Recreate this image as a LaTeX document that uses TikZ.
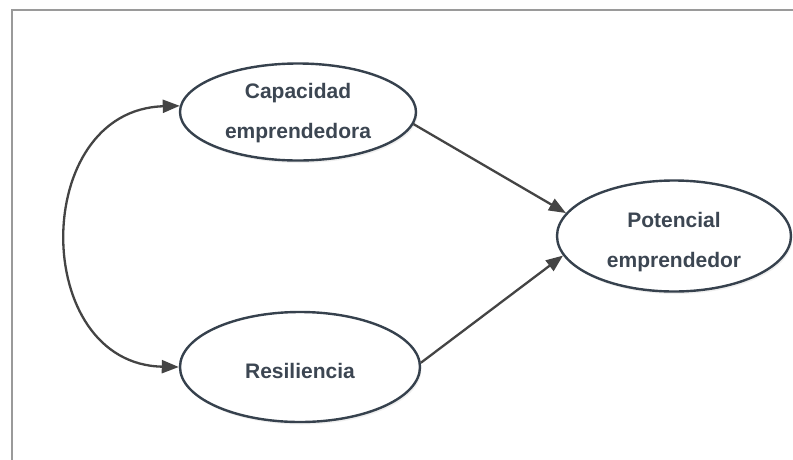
\documentclass[tikz,border=0pt]{standalone}
\usepackage{fontspec}
\setmainfont{Liberation Sans}
\usetikzlibrary{shapes.geometric,arrows.meta,shadows}
\definecolor{edgec}{HTML}{36414D}
\definecolor{textc}{HTML}{3C4652}
\definecolor{arrc}{HTML}{444444}
\definecolor{framec}{HTML}{9A9A9A}
\begin{document}
\begin{tikzpicture}[x=1pt,y=-1pt,
  construct/.style={ellipse, draw=edgec, line width=2.4pt, fill=white, inner sep=0pt,
    drop shadow={opacity=0.12, shadow xshift=1.5pt, shadow yshift=-2.5pt}},
  ctext/.style={font=\fontsize{21}{39.5}\selectfont\bfseries, text=textc, align=center, inner sep=0pt},
  link/.style={draw=arrc, line width=2.3pt, -{Triangle[length=17pt,width=13pt]}},
  dlink/.style={draw=arrc, line width=2.3pt, {Triangle[length=17pt,width=13pt]}-{Triangle[length=17pt,width=13pt]}}]
\useasboundingbox (0,0) rectangle (793,459);
\fill[white] (0,0) rectangle (793,459);
\draw[framec, line width=2pt] (11.7,470) -- (11.7,10) -- (800,10);
\node[construct, minimum width=236pt, minimum height=97pt,
  label={[ctext, yshift=-1pt]center:Capacidad\\emprendedora}] (cap) at (298,112) {};
\node[construct, minimum width=234pt, minimum height=111pt,
  label={[ctext, yshift=-6pt]center:Potencial\\emprendedor}] (pot) at (674,236) {};
\node[construct, minimum width=240pt, minimum height=110pt,
  label={[ctext, yshift=-4pt]center:Resiliencia}] (res) at (300,367) {};
\draw[link] (cap.-6) -- (pot.168);
\draw[link] (res.2) -- (pot.190);
\draw[dlink] (cap.177) .. controls (30,110) and (30,364) .. (res.180);
\end{tikzpicture}
\end{document}
